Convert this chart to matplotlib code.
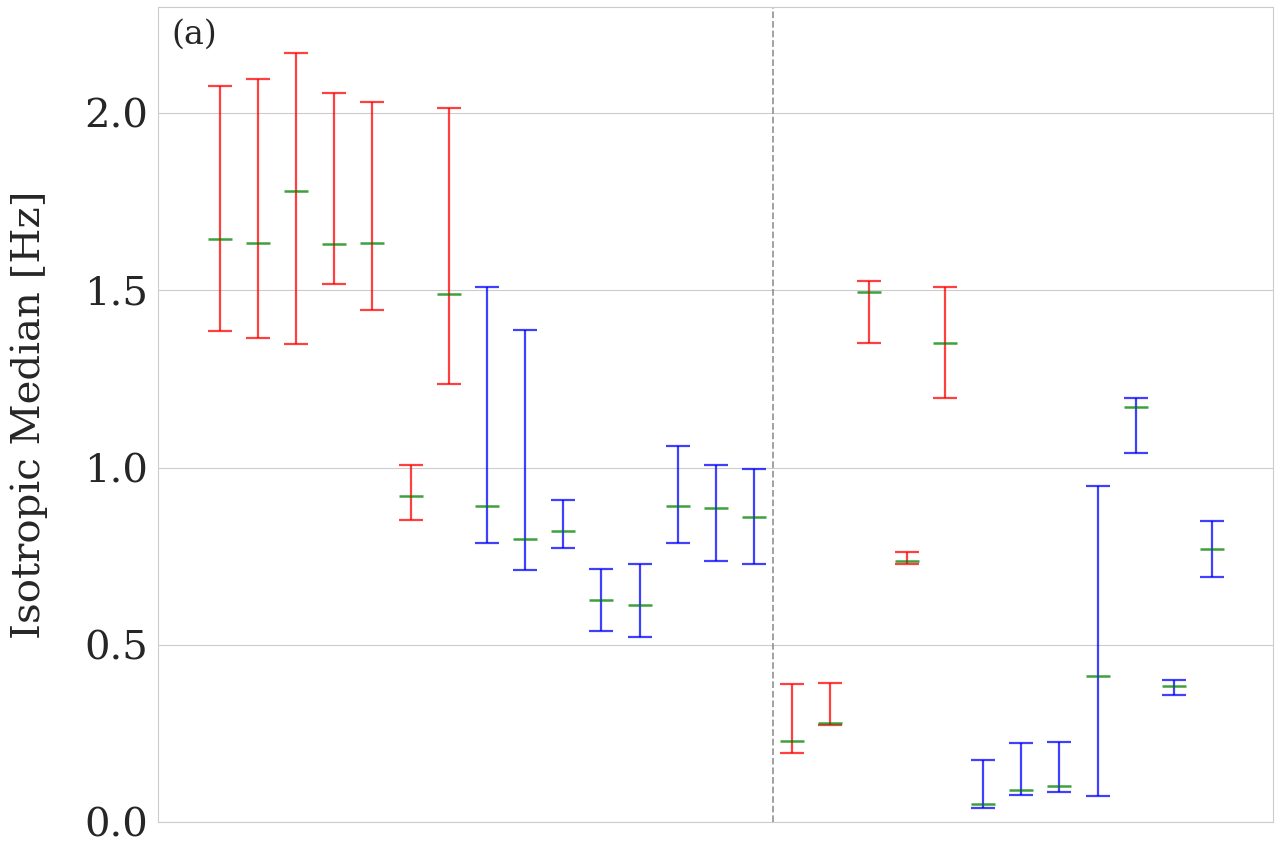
import matplotlib
matplotlib.use("Agg")
import matplotlib.pyplot as plt
import seaborn as sns
import numpy as np

# medians and ranges (27 cases, split after the 15th)
medians = [1.645, 1.634, 1.781, 1.631, 1.634, 0.920, 1.490,
           0.892, 0.799, 0.822, 0.627, 0.613, 0.892, 0.887, 0.861,
           0.229, 0.280, 1.496, 0.737, 1.352,
           0.052, 0.091, 0.102, 0.413, 1.172, 0.384, 0.771]
lows = [1.386, 1.366, 1.349, 1.518, 1.445, 0.853, 1.236,
        0.788, 0.712, 0.774, 0.540, 0.523, 0.788, 0.737, 0.729,
        0.195, 0.275, 1.352, 0.729, 1.197,
        0.040, 0.077, 0.085, 0.074, 1.042, 0.359, 0.692]
highs = [2.077, 2.096, 2.170, 2.057, 2.032, 1.008, 2.015,
         1.510, 1.388, 0.909, 0.714, 0.729, 1.062, 1.008, 0.997,
         0.390, 0.393, 1.527, 0.762, 1.510,
         0.176, 0.224, 0.227, 0.949, 1.197, 0.401, 0.850]
groups = ["A"] * 7 + ["B"] * 8 + ["A"] * 5 + ["B"] * 7
split_after = 15

sns.set_style("whitegrid")
plt.rcParams['font.family'] = ['DejaVu Serif']

group_colors = {"A": "red", "B": "blue"}

fig = plt.figure(figsize=(12.81, 8.52), dpi=100)
ax = fig.add_axes([0.1233, 0.0352, 0.8705, 0.9566])

x = np.arange(len(medians))
med = np.array(medians)
lo = np.array(lows)
hi = np.array(highs)
mid = (lo + hi) / 2
for i in range(len(x)):
    ax.errorbar(x[i], mid[i], yerr=[[mid[i] - lo[i]], [hi[i] - mid[i]]],
                fmt='none', ecolor=group_colors[groups[i]], alpha=0.75,
                elinewidth=1.6, capsize=8.5, capthick=1.6)
ax.plot(x, med, linestyle='none', marker='_', markersize=17,
        markeredgewidth=1.8, color='green', alpha=0.75)

ax.axvline(split_after - 0.5, color='gray', linestyle='--', linewidth=1.3, alpha=0.8)

ax.set_xlim(-1.62, 27.6)
ax.set_ylim(0, 2.3)
ax.set_xticks([])
ax.set_yticks([0.0, 0.5, 1.0, 1.5, 2.0])
ax.tick_params(axis='y', labelsize=29, colors='#262626')
ax.set_ylabel("Isotropic Median [Hz]", fontsize=29, color='#262626', labelpad=26)
ax.text(0.012, 0.985, "(a)", transform=ax.transAxes, fontsize=24,
        ha='left', va='top', color='#262626')

plt.savefig("out.png", dpi=100)
plt.close()
